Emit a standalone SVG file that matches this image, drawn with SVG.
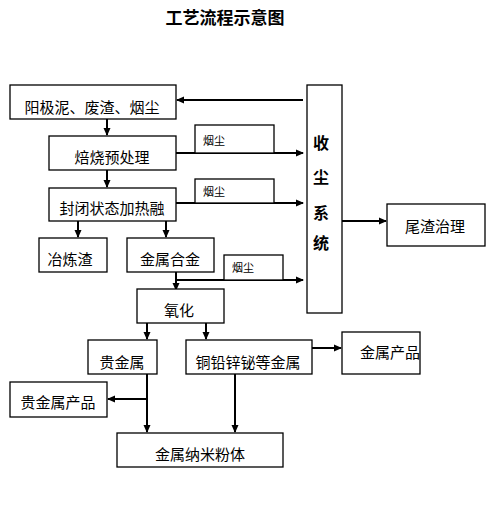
<svg xmlns="http://www.w3.org/2000/svg" width="500" height="529" viewBox="0 0 500 529">
<defs>
<marker id="ah" markerWidth="8" markerHeight="8" refX="7" refY="4" orient="auto" markerUnits="userSpaceOnUse">
<path d="M0,0.5 L8,4 L0,7.5 Z" fill="#000"/>
</marker>
<style>
.b{fill:#fff;stroke:#000;stroke-width:1.3}
.t{font-family:"Noto Sans CJK SC","Noto Sans CJK JP",sans-serif;font-size:15px;fill:#000;text-anchor:middle}
.s{font-family:"Noto Sans CJK SC",sans-serif;font-size:11px;fill:#000}
.c{fill:none;stroke:#000;stroke-width:2}
.l{fill:none;stroke:#000;stroke-width:1.3}
</style>
</defs>
<rect width="500" height="529" fill="#fff"/>
<text x="225" y="24" style="font-family:'Noto Sans CJK SC',sans-serif;font-size:17px;font-weight:bold;text-anchor:middle">工艺流程示意图</text>
<g id="connectors">
<path class="c" d="M303,100 H177" marker-end="url(#ah)"/>
<path class="c" d="M107,119 V135" marker-end="url(#ah)"/>
<path class="c" d="M107,170 V187" marker-end="url(#ah)"/>
<path class="c" d="M176,153 H303" marker-end="url(#ah)"/>
<path class="c" d="M176,203 H303" marker-end="url(#ah)"/>
<path class="c" d="M78,221 V237" marker-end="url(#ah)"/>
<path class="c" d="M166,221 V237" marker-end="url(#ah)"/>
<path class="c" d="M176,280 H303" marker-end="url(#ah)"/>
<path class="c" d="M176,272 V290" marker-end="url(#ah)"/>
<path class="c" d="M342,221 H386" marker-end="url(#ah)"/>
<path class="c" d="M147,323 V339" marker-end="url(#ah)"/>
<path class="c" d="M206,323 V339" marker-end="url(#ah)"/>
<path class="c" d="M312,348 H341" marker-end="url(#ah)"/>
<path class="c" d="M147,374 V432" marker-end="url(#ah)"/>
<path class="c" d="M147,399 H108" marker-end="url(#ah)"/>
<path class="c" d="M235,374 V432" marker-end="url(#ah)"/>
</g>
<g id="n1"><rect class="b" x="10" y="85" width="166" height="34"/><text class="t" x="92" y="113">阳极泥、废渣、烟尘</text></g>
<g id="collector"><rect class="b" x="307" y="85" width="35" height="228"/>
<g style="font-family:'Noto Sans CJK SC',sans-serif;font-size:16px;font-weight:bold;text-anchor:middle">
<text x="321" y="149">收</text><text x="321" y="183">尘</text><text x="321" y="219">系</text><text x="321" y="249">统</text></g></g>
<g id="n2"><rect class="b" x="49" y="136" width="127" height="34"/><text class="t" x="112" y="163">焙烧预处理</text></g>
<g id="dust1"><rect class="b" x="195" y="125" width="79" height="28"/><text class="s" x="203" y="145">烟尘</text></g>
<g id="n3"><rect class="b" x="49" y="188" width="127" height="33"/><text class="t" x="112" y="214">封闭状态加热融</text></g>
<g id="dust2"><rect class="b" x="195" y="179" width="79" height="24"/><text class="s" x="203" y="196">烟尘</text></g>
<g id="n4"><rect class="b" x="39" y="238" width="68" height="34"/><text class="t" x="70" y="265">冶炼渣</text></g>
<g id="n5"><rect class="b" x="127" y="238" width="87" height="34"/><text class="t" x="170" y="265">金属合金</text></g>
<g id="dust3"><rect class="b" x="224" y="255" width="59" height="25"/><text class="s" x="232" y="272">烟尘</text></g>
<g id="n6"><rect class="b" x="387" y="204" width="98" height="42"/><text class="t" x="435" y="232">尾渣治理</text></g>
<g id="n7"><rect class="b" x="137" y="289" width="87" height="34"/><text class="t" x="179" y="316">氧化</text></g>
<g id="n8"><rect class="b" x="88" y="340" width="69" height="34"/><text class="t" x="122" y="368">贵金属</text></g>
<g id="n9"><rect class="b" x="186" y="340" width="126" height="34"/><text class="t" x="248" y="368">铜铅锌铋等金属</text></g>
<g id="n10"><rect class="b" x="342" y="332" width="78" height="42"/><text class="t" x="390" y="358">金属产品</text></g>
<g id="n11"><rect class="b" x="10" y="382" width="97" height="35"/><text class="t" x="58" y="408">贵金属产品</text></g>
<g id="n12"><rect class="b" x="117" y="433" width="166" height="34"/><text class="t" x="200" y="460">金属纳米粉体</text></g>
</svg>
